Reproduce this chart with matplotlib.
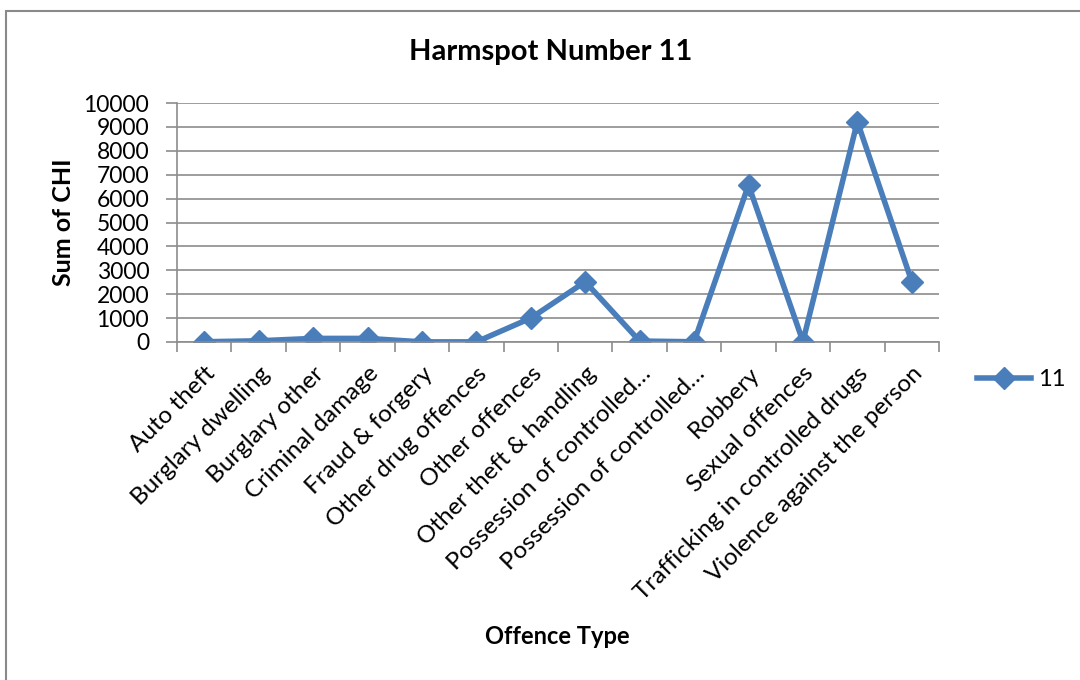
import matplotlib

matplotlib.use("Agg")

import matplotlib.pyplot as plt
from matplotlib.lines import Line2D
from matplotlib.patches import Rectangle
import numpy as np

categories = [
    "Auto theft",
    "Burglary dwelling",
    "Burglary other",
    "Criminal damage",
    "Fraud & forgery",
    "Other drug offences",
    "Other offences",
    "Other theft & handling",
    "Possession of controlled…",
    "Possession of controlled…",
    "Robbery",
    "Sexual offences",
    "Trafficking in controlled drugs",
    "Violence against the person",
]
chi_values = [10, 50, 150, 150, 5, 5, 1000, 2520, 40, 10, 6570, 20, 9220, 2530]
series_name = "11"

plt.rcParams["font.family"] = ["Lato", "DejaVu Sans"]

blue = "#4a7ebb"
grid_gray = "#8c8c8c"

fig = plt.figure(figsize=(10.8, 6.8), dpi=100)
# outer chart frame, only the top and left edges fall inside the image
fig.patches.append(
    Rectangle((6 / 1080, -0.1), 1.2, 1.1 - 11 / 680, transform=fig.transFigure,
              fill=False, edgecolor="#8a8a8a", linewidth=1.5)
)

ax = fig.add_axes([177 / 1080, 1 - 342 / 680, 762 / 1080, 239 / 680])
x = np.arange(len(categories))
ax.plot(x, chi_values, color=blue, linewidth=4, marker="D", markersize=11,
        markeredgecolor=blue, solid_joinstyle="miter")

ax.set_xlim(-0.5, len(categories) - 0.5)
ax.set_ylim(0, 10000)
ax.set_yticks(np.arange(0, 10001, 1000))
ax.grid(axis="y", color=grid_gray, linewidth=1.2)
ax.set_axisbelow(True)

for side in ["top", "right"]:
    ax.spines[side].set_visible(False)
for side in ["left", "bottom"]:
    ax.spines[side].set_color(grid_gray)
    ax.spines[side].set_linewidth(1.2)

ax.set_xticks(x)
ax.set_xticklabels(categories, rotation=45, ha="right", va="top",
                   rotation_mode="anchor", fontsize=17.5)
ax.set_xticks(np.arange(-0.5, len(categories)), minor=True)
ax.tick_params(axis="x", which="major", length=0, pad=15)
ax.tick_params(axis="x", which="minor", length=7, color=grid_gray, width=1.2)
ax.tick_params(axis="y", length=8, color=grid_gray, width=1.2, labelsize=16.5, pad=12)

ax.set_ylabel("Sum of CHI", fontsize=18, fontweight="bold", labelpad=6)
fig.text(557 / 1080, 1 - 637 / 680, "Offence Type", fontsize=17, fontweight="bold",
         ha="center", va="center")
fig.text(551 / 1080, 1 - 52 / 680, "Harmspot Number 11", fontsize=21,
         fontweight="bold", ha="center", va="center")

handle = Line2D([], [], color=blue, linewidth=4, marker="D", markersize=11)
fig.legend([handle], [series_name], loc="center left",
           bbox_to_anchor=(977 / 1080, 1 - 380 / 680), frameon=False, fontsize=17,
           handlelength=2.3, handletextpad=0.3, borderpad=0, borderaxespad=0)

fig.savefig("out.png", dpi=100)
